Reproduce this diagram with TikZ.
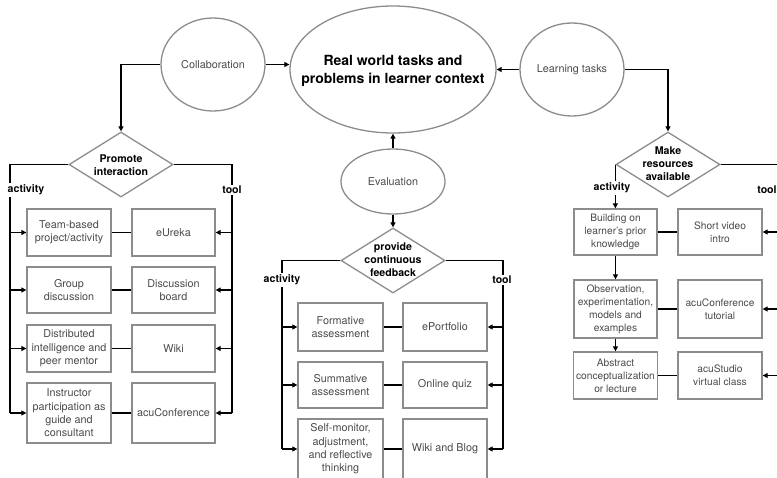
\documentclass[tikz,border=0pt]{standalone}
\usepackage{fontspec}
\setmainfont{TeX Gyre Heros}
\usetikzlibrary{shapes.geometric,arrows.meta}
\definecolor{bordergray}{HTML}{8C8C8C}
\definecolor{txtgray}{HTML}{4A4A4A}
\begin{document}
\begin{tikzpicture}[x=1pt,y=-1pt,
  ell/.style={ellipse, draw=bordergray, line width=1.3pt, inner sep=0pt},
  dia/.style={diamond, draw=bordergray, line width=1.3pt, inner sep=0pt, minimum width=104pt, minimum height=65pt},
  etxt/.style={text=txtgray, align=center, inner sep=0pt, font=\fontsize{10.8}{13}\selectfont},
  dtxt/.style={text=black, align=center, inner sep=0pt, font=\bfseries\fontsize{10.6}{13}\selectfont},
  bx/.style 2 args={rectangle, draw=bordergray, line width=1.3pt, inner sep=0pt, align=center, text=txtgray, font=\fontsize{10.8}{13.3}\selectfont, minimum width=#1, minimum height=#2},
  bxs/.style 2 args={bx={#1}{#2}, font=\fontsize{10.2}{13}\selectfont},
  lbl/.style={font=\bfseries\fontsize{10.6}{12}\selectfont, fill=white, inner sep=1.5pt},
  conn/.style={line width=1.6pt, draw=black},
  arr/.style={conn, -{Triangle[length=5pt,width=5pt]}},
]
\useasboundingbox (0,0) rectangle (777,477);
\clip (0,0) rectangle (777,477);

% ellipses
\node[ell, minimum width=206pt, minimum height=127pt] (main) at (393,69.5) {};
\node[align=center, inner sep=0pt, font=\bfseries\fontsize{14}{18}\selectfont] (maintxt) at (393,71) {Real world tasks and\\problems in learner context};
\node[ell, minimum width=104pt, minimum height=93pt] (collab) at (213,64.5) {};
\node[etxt] (collabtxt) at (collab) {Collaboration};
\node[ell, minimum width=104pt, minimum height=93pt] (learn) at (572,69.5) {};
\node[etxt] (learntxt) at (learn) {Learning tasks};
\node[ell, minimum width=104pt, minimum height=65pt] (eval) at (393,181.5) {};
\node[etxt] (evaltxt) at (eval) {Evaluation};

% diamonds
\node[dia] (promote) at (121,164.5) {};
\node[dtxt] (promotetxt) at (121,165) {Promote\\interaction};
\node[dia] (feed) at (393,260.5) {};
\node[dtxt] (feedtxt) at (393,260) {provide\\continuous\\feedback};
\node[dia] (make) at (668,164.5) {};
\node[dtxt] (maketxt) at (668,163.5) {Make\\resources\\available};

% left column boxes
\node[bx={84pt}{47pt}] (la1) at (69,232.5) {Team-based\\project/activity};
\node[bx={83pt}{47pt}] (lt1) at (173.5,232.5) {eUreka};
\node[bx={84pt}{46pt}] (la2) at (69,290) {Group\\discussion};
\node[bx={83pt}{46pt}] (lt2) at (173.5,290) {Discussion\\board};
\node[bx={84pt}{47pt}] (la3) at (69,348.5) {Distributed\\intelligence and\\peer mentor};
\node[bx={83pt}{47pt}] (lt3) at (173.5,348.5) {Wiki};
\node[bx={84pt}{60pt}] (la4) at (69,413) {Instructor\\participation as\\guide and\\consultant};
\node[bx={83pt}{60pt}] (lt4) at (173.5,413) {acuConference};

% middle column boxes
\node[bx={85pt}{48pt}] (ma1) at (340.5,327) {Formative\\assessment};
\node[bx={84pt}{48pt}] (mt1) at (445,327) {ePortfolio};
\node[bx={85pt}{46pt}] (ma2) at (340.5,385) {Summative\\assessment};
\node[bx={84pt}{46pt}] (mt2) at (445,385) {Online quiz};
\node[bx={85pt}{60pt}] (ma3) at (340.5,449) {Self-monitor,\\adjustment,\\and reflective\\thinking};
\node[bx={84pt}{60pt}] (mt3) at (445,449) {Wiki and Blog};

% right column boxes
\node[bxs={83pt}{46pt}] (ra1) at (615.5,232) {Building on\\learner's prior\\knowledge};
\node[bxs={84pt}{46pt}] (rt1) at (720,232) {Short video\\intro};
\node[bxs={83pt}{58pt}] (ra2) at (615.5,309) {Observation,\\experimentation,\\models and\\examples};
\node[bxs={84pt}{58pt}] (rt2) at (720,309) {acuConference\\tutorial};
\node[bxs={84pt}{47pt}] (ra3) at (615.5,375.5) {Abstract\\conceptualization\\or lecture};
\node[bxs={84pt}{47pt}] (rt3) at (720,375.5) {acuStudio\\virtual class};

% top connectors
\draw[arr] (collab.east) -- (collab.east -| main.west);
\draw[arr] (learn.west) -- (main.east);
\draw[arr] (eval.north) -- (main.south);
\draw[arr] (eval.south) -- (feed.north);
\draw[arr] (collab.west) -| (promote.north);
\draw[arr] (learn.east) -| (make.north);

% left column connectors
\coordinate (pl) at (10,164.5);
\coordinate (pr) at (232,164.5);
\draw[conn] (promote.west) -- (pl) -- (pl |- la4.west);
\draw[conn] (promote.east) -- (pr) -- (pr |- lt4.east);
\foreach \i in {1,2,3,4} {
  \draw[arr] (pl |- la\i.west) -- (la\i.west);
  \draw[arr] (pr |- lt\i.east) -- (lt\i.east);
  \draw[conn] (la\i.east) -- (lt\i.west);
}
\node[lbl] (lact) at (26,190) {activity};
\node[lbl] (ltool) at (232,190) {tool};

% middle column connectors
\coordinate (ml) at (282,260.5);
\coordinate (mr) at (503,260.5);
\draw[conn] (feed.west) -- (ml) -- (ml |- ma3.west);
\draw[conn] (feed.east) -- (mr) -- (mr |- mt3.east);
\foreach \i in {1,2,3} {
  \draw[arr] (ml |- ma\i.west) -- (ma\i.west);
  \draw[arr] (mr |- mt\i.east) -- (mt\i.east);
  \draw[conn] (ma\i.east) -- (mt\i.west);
}
\node[lbl] (mact) at (282,280) {activity};
\node[lbl] (mtool) at (502,280) {tool};

% right column connectors
\coordinate (rr) at (792,164.5);
\draw[arr] (make.west) -- (make.west |- ra1.north);
\draw[arr] (ra1.south) -- (ra2.north);
\draw[arr] (ra2.south) -- (ra3.north);
\draw[conn] (make.east) -- (rr) -- (rr |- rt3.east);
\foreach \i in {1,2,3} {
  \draw[arr] (rr |- rt\i.east) -- (rt\i.east);
  \draw[conn] (ra\i.east) -- (rt\i.west);
}
\node[lbl] (ract) at (612,188) {activity};
\node[lbl, fill=none] (rtool) at (767,190) {tool};
\end{tikzpicture}
\end{document}
